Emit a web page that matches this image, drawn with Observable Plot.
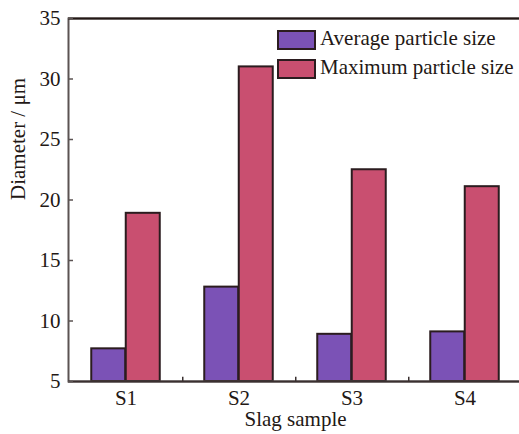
<!DOCTYPE html>
<html>
<head>
<meta charset="utf-8">
<script src="https://cdn.jsdelivr.net/npm/d3@7"></script>
<script src="https://cdn.jsdelivr.net/npm/@observablehq/plot@0.6"></script>
<style>
  body { margin: 0; background: white; overflow: hidden; }
  #wrap { position: relative; width: 519px; height: 434px; }
  .lg { position: absolute; font-family: "Liberation Serif", serif; font-size: 21px; color: #231815; white-space: nowrap; }
  .sw { position: absolute; box-sizing: border-box; border: 2px solid #2b1c1f; }
</style>
</head>
<body>
<div id="wrap"></div>
<script>
const samples = ["S1", "S2", "S3", "S4"];
const averageSize = [7.7, 12.8, 8.9, 9.1];
const maximumSize = [18.9, 31.0, 22.5, 21.1];
const seriesNames = ["Average particle size", "Maximum particle size"];
const seriesColors = ["#7b52b6", "#c94f70"];
const yTicks = [5, 10, 15, 20, 25, 30, 35];
const yLabel = "Diameter / μm";
const xLabel = "Slag sample";

const avgData = samples.map((s, i) => ({sample: s, value: averageSize[i]}));
const maxData = samples.map((s, i) => ({sample: s, value: maximumSize[i]}));

const half = 113.5 / 2;
const chart = Plot.plot({
  width: 519,
  height: 434,
  marginLeft: 68,
  marginRight: -3,
  marginTop: 18,
  marginBottom: 53,
  style: {fontFamily: "Liberation Serif, serif", fontSize: "21px", color: "#231815", background: "white"},
  x: {domain: samples, padding: 0},
  y: {domain: [5, 35]},
  marks: [
    Plot.barY(avgData, {x: "sample", y1: 5, y2: "value", fill: seriesColors[0], stroke: "#2b1c1f", strokeWidth: 2, insetLeft: half - 34.5, insetRight: half}),
    Plot.barY(maxData, {x: "sample", y1: 5, y2: "value", fill: seriesColors[1], stroke: "#2b1c1f", strokeWidth: 2, insetLeft: half, insetRight: half - 34.5}),
    Plot.frame({stroke: "#5b5352", strokeWidth: 2}),
    Plot.ruleY([35], {stroke: "#231815", strokeWidth: 2}),
    Plot.ruleY([5], {stroke: "#3a3030", strokeWidth: 2}),
    Plot.ruleX(samples.slice(0, 3), {x: d => d, y1: 5, y2: 5.35, dx: half, stroke: "#3a3030", strokeWidth: 1.5}),
    Plot.axisY({ticks: yTicks, tickSize: 5, dx: 5, tickFormat: () => "", label: null, stroke: "#5b5352", strokeWidth: 1.5}),
    Plot.axisY({ticks: yTicks, tickSize: 0, tickPadding: 8, fontSize: 21, label: null}),
    Plot.axisX({tickSize: 0, tickPadding: 9, fontSize: 21, label: null}),
    Plot.text([yLabel], {text: d => d, frameAnchor: "left", dx: -50, rotate: -90, fontSize: 21, fill: "#231815"}),
    Plot.text([xLabel], {text: d => d, frameAnchor: "bottom", dy: 44, fontSize: 21, fill: "#231815"})
  ]
});
const wrap = document.getElementById("wrap");
wrap.appendChild(chart);

const legendTops = [30, 59];
seriesNames.forEach((name, i) => {
  const sw = document.createElement("div");
  sw.className = "sw";
  sw.style.left = "277px";
  sw.style.top = legendTops[i] + "px";
  sw.style.width = "39px";
  sw.style.height = "20px";
  sw.style.background = seriesColors[i];
  wrap.appendChild(sw);
  const t = document.createElement("div");
  t.className = "lg";
  t.textContent = name;
  t.style.left = "320px";
  t.style.top = (legendTops[i] - 3) + "px";
  t.style.lineHeight = "22px";
  wrap.appendChild(t);
});
</script>
</body>
</html>
